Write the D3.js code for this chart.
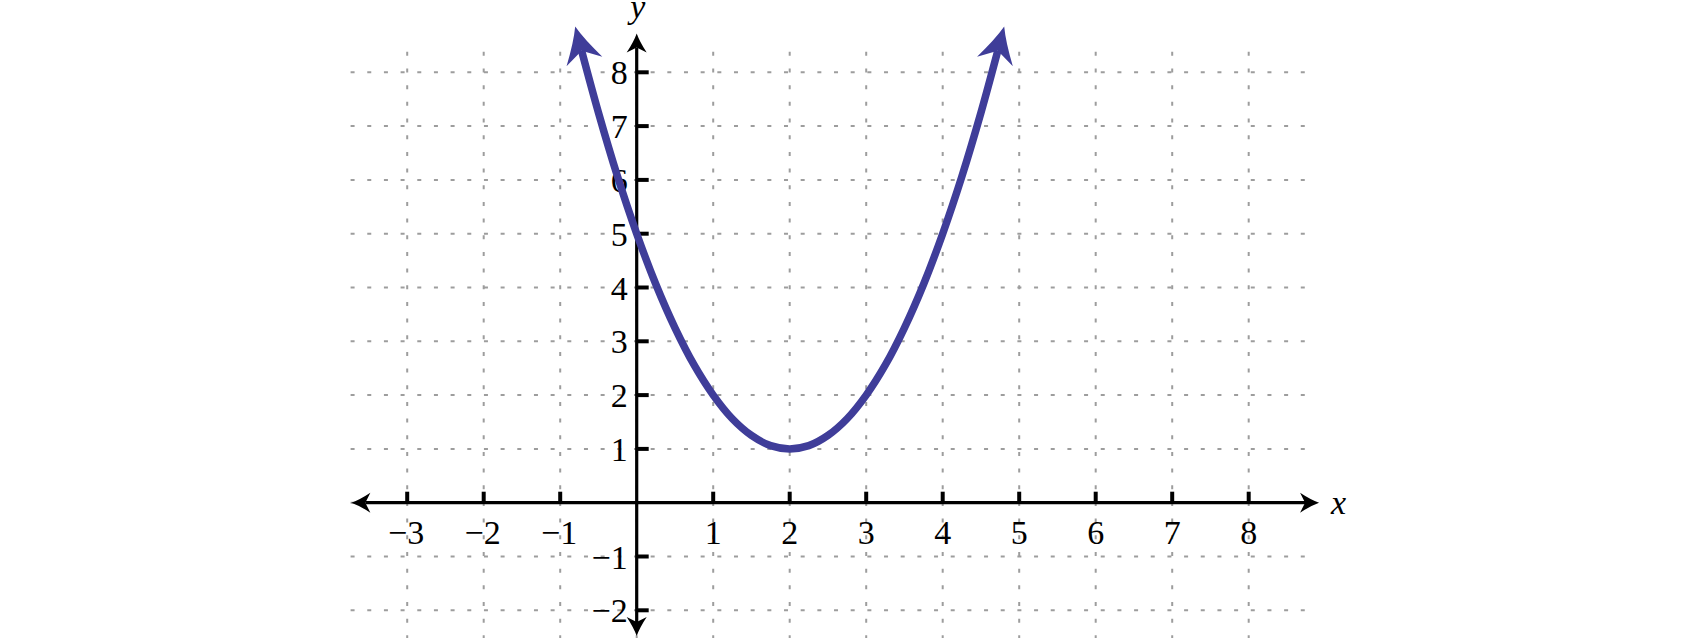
<!DOCTYPE html>
<html>
<head>
<meta charset="utf-8">
<script src="https://cdn.jsdelivr.net/npm/d3@7"></script>
<style>
  html, body { margin: 0; padding: 0; background: #fff; }
  svg { display: block; }
  text { font-family: "Liberation Serif", "Times New Roman", Times, serif; fill: #000; }
</style>
</head>
<body>
<script>
// tick values on each axis
var xTicks = [-3, -2, -1, 1, 2, 3, 4, 5, 6, 7, 8];
var yTicks = [-2, -1, 1, 2, 3, 4, 5, 6, 7, 8];
var xGrid = [-3, -2, -1, 0, 1, 2, 3, 4, 5, 6, 7, 8];
var yGrid = [-2, -1, 0, 1, 2, 3, 4, 5, 6, 7, 8];

// points (ends are where the arrowheads start)
var curveX = [-0.72, -0.5, -0.25, 0, 0.25, 0.5, 0.75, 1, 1.25, 1.5, 1.75, 2,
              2.25, 2.5, 2.75, 3, 3.25, 3.5, 3.75, 4, 4.25, 4.5, 4.72];
var curveY = [8.4, 7.25, 6.06, 5, 4.06, 3.25, 2.56, 2, 1.56, 1.25, 1.06, 1,
              1.06, 1.25, 1.56, 2, 2.56, 3.25, 4.06, 5, 6.06, 7.25, 8.4];

// how far the grid and the axes run, in data units
var gridX = [-3.74, 8.74];
var gridY = [-2.6, 8.38];
var axisX = [-3.73, 8.92];
var axisY = [-2.48, 8.72];

var width = 1700, height = 638;

var svg = d3.select('body').append('svg')
  .attr('width', width)
  .attr('height', height);

svg.append('rect').attr('width', width).attr('height', height).attr('fill', '#fff');

var x = d3.scaleLinear().domain([-3, 8]).range([407.2, 1248.7]);
var y = d3.scaleLinear().domain([-2, 8]).range([610.3, 72.3]);

var defs = svg.append('defs');

function addMarker(id, color, len, half, notch) {
  defs.append('marker')
    .attr('id', id)
    .attr('markerUnits', 'userSpaceOnUse')
    .attr('viewBox', '-40 -40 80 80')
    .attr('markerWidth', 80)
    .attr('markerHeight', 80)
    .attr('refX', 0)
    .attr('refY', 0)
    .attr('orient', 'auto-start-reverse')
    .append('path')
    .attr('fill', color)
    .attr('d', 'M' + len + ',0' +
      ' Q' + (len * 0.4) + ',' + (-half * 0.3) + ' ' + (-notch) + ',' + (-half) +
      ' L0,0 L' + (-notch) + ',' + half +
      ' Q' + (len * 0.4) + ',' + (half * 0.3) + ' ' + len + ',0 Z');
}
addMarker('curveHead', '#3f3d99', 25, 18.5, 11);
addMarker('axisHead', '#000', 14, 10, 5);

// dotted grid
var grid = svg.append('g')
  .attr('stroke', '#9d9d9d')
  .attr('stroke-width', 2)
  .attr('stroke-dasharray', '4 12.67');

grid.selectAll('.hgrid')
  .data(yGrid)
  .enter().append('line')
  .attr('class', 'hgrid')
  .attr('x1', x(gridX[0]))
  .attr('x2', x(gridX[1]))
  .attr('y1', function(d) { return y(d); })
  .attr('y2', function(d) { return y(d); });

grid.selectAll('.vgrid')
  .data(xGrid)
  .enter().append('line')
  .attr('class', 'vgrid')
  .attr('x1', function(d) { return x(d); })
  .attr('x2', function(d) { return x(d); })
  .attr('y1', y(gridY[1]))
  .attr('y2', y(gridY[0]));

// axes (the line stops at the notch of the arrowhead)
var axes = svg.append('g').attr('stroke', '#000').attr('stroke-width', 3.2);

axes.append('line')
  .attr('x1', x(axisX[0]) + 14).attr('x2', x(axisX[1]) - 14)
  .attr('y1', y(0)).attr('y2', y(0))
  .attr('marker-start', 'url(#axisHead)')
  .attr('marker-end', 'url(#axisHead)');

axes.append('line')
  .attr('x1', x(0)).attr('x2', x(0))
  .attr('y1', y(axisY[0]) - 14).attr('y2', y(axisY[1]) + 14)
  .attr('marker-start', 'url(#axisHead)')
  .attr('marker-end', 'url(#axisHead)');

// tick marks
axes.selectAll('.xtick')
  .data(xTicks)
  .enter().append('line')
  .attr('class', 'xtick')
  .attr('stroke-width', 4)
  .attr('x1', function(d) { return x(d); })
  .attr('x2', function(d) { return x(d); })
  .attr('y1', y(0))
  .attr('y2', y(0) - 11);

axes.selectAll('.ytick')
  .data(yTicks)
  .enter().append('line')
  .attr('class', 'ytick')
  .attr('stroke-width', 4)
  .attr('x1', x(0))
  .attr('x2', x(0) + 12)
  .attr('y1', function(d) { return y(d); })
  .attr('y2', function(d) { return y(d); });

function fmt(d) { return d < 0 ? '\u2212' + Math.abs(d) : String(d); }

// tick labels
svg.selectAll('.xlabel')
  .data(xTicks)
  .enter().append('text')
  .attr('class', 'xlabel')
  .attr('font-size', 34)
  .attr('text-anchor', 'middle')
  .attr('x', function(d) { return x(d) + (d < 0 ? -1 : 0); })
  .attr('y', y(0) + 41)
  .text(fmt);

svg.selectAll('.ylabel')
  .data(yTicks)
  .enter().append('text')
  .attr('class', 'ylabel')
  .attr('font-size', 34)
  .attr('text-anchor', 'end')
  .attr('x', x(0) - 9)
  .attr('y', function(d) { return y(d) + 12; })
  .text(fmt);

// axis names
svg.append('text')
  .attr('font-size', 34)
  .attr('font-style', 'italic')
  .attr('text-anchor', 'middle')
  .attr('x', x(0) + 1)
  .attr('y', 18)
  .text('y');

svg.append('text')
  .attr('font-size', 34)
  .attr('font-style', 'italic')
  .attr('x', x(axisX[1]) + 12)
  .attr('y', y(0) + 11)
  .text('x');

// the parabola
var pts = curveX.map(function(d, i) { return [d, curveY[i]]; });
var line = d3.line()
  .x(function(d) { return x(d[0]); })
  .y(function(d) { return y(d[1]); })
  .curve(d3.curveCatmullRom.alpha(0.5));

svg.append('path')
  .datum(pts)
  .attr('fill', 'none')
  .attr('stroke', '#3f3d99')
  .attr('stroke-width', 7.5)
  .attr('d', line)
  .attr('marker-start', 'url(#curveHead)')
  .attr('marker-end', 'url(#curveHead)');
</script>
</body>
</html>
